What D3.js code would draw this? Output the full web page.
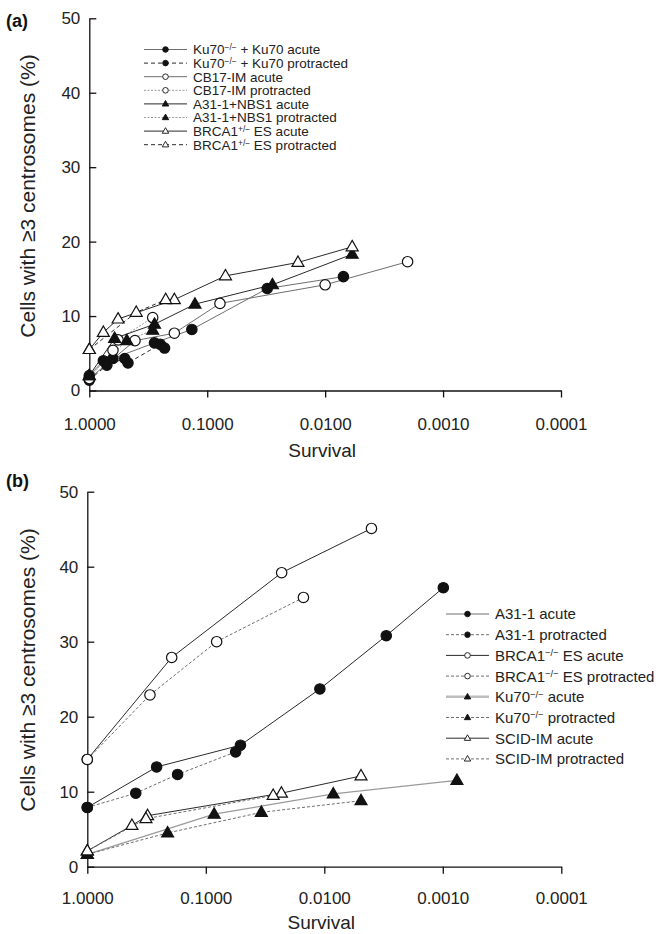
<!DOCTYPE html>
<html>
<head>
<meta charset="utf-8">
<script src="https://cdn.jsdelivr.net/npm/d3@7"></script>
<style>
  body { margin: 0; background: #fff; }
  svg { display: block; }
</style>
</head>
<body>
<div id="chart"></div>
<script>
// ---- axis ticks ----
const xTicks = [1, 0.1, 0.01, 0.001, 0.0001];
const xTickLabels = ["1.0000", "0.1000", "0.0100", "0.0010", "0.0001"];
const yTicks = [0, 10, 20, 30, 40, 50];

// ---- panel (a) data: survival fraction / % cells with >=3 centrosomes ----
const ku70RescAcuteSurv = [1, 0.76, 0.63, 0.28, 0.135, 0.031, 0.007];
const ku70RescAcutePct = [2.0, 4.0, 4.3, 6.4, 8.2, 13.7, 15.3];
const ku70RescProtSurv = [1, 0.71, 0.50, 0.47, 0.25, 0.23];
const ku70RescProtPct = [1.4, 3.4, 4.3, 3.7, 6.2, 5.7];
const cb17AcuteSurv = [1, 0.41, 0.19, 0.078, 0.010, 0.0020];
const cb17AcutePct = [1.6, 6.7, 7.7, 11.7, 14.2, 17.3];
const cb17ProtSurv = [1, 0.63, 0.57, 0.29];
const cb17ProtPct = [1.6, 5.4, 6.8, 9.8];
const nbs1AcuteSurv = [1, 0.61, 0.28, 0.127, 0.028, 0.0059];
const nbs1AcutePct = [2.0, 7.0, 8.9, 11.6, 14.2, 18.3];
const nbs1ProtSurv = [1, 0.48, 0.29];
const nbs1ProtPct = [2.0, 6.7, 8.1];
const brcaHetAcuteSurv = [1, 0.76, 0.57, 0.19, 0.070, 0.017, 0.0059];
const brcaHetAcutePct = [5.5, 7.8, 9.6, 12.2, 15.4, 17.2, 19.3];
const brcaHetProtSurv = [1, 0.40, 0.225];
const brcaHetProtPct = [5.5, 10.5, 12.2];

const legendA = [
  "Ku70{−/−} + Ku70 acute", "Ku70{−/−} + Ku70 protracted",
  "CB17-IM acute", "CB17-IM protracted",
  "A31-1+NBS1 acute", "A31-1+NBS1 protracted",
  "BRCA1{+/−} ES acute", "BRCA1{+/−} ES protracted"
];

// ---- panel (b) data ----
const a31AcuteSurv = [1, 0.26, 0.051, 0.0109, 0.0030, 0.00099];
const a31AcutePct = [7.9, 13.3, 16.2, 23.7, 30.8, 37.2];
const a31ProtSurv = [1, 0.39, 0.173, 0.056];
const a31ProtPct = [7.9, 9.8, 12.3, 15.3];
const brcaNullAcuteSurv = [1, 0.194, 0.0229, 0.0040];
const brcaNullAcutePct = [14.3, 27.9, 39.2, 45.1];
const brcaNullProtSurv = [1, 0.296, 0.081, 0.0150];
const brcaNullProtPct = [14.3, 22.9, 30.0, 35.9];
const ku70AcuteSurv = [1, 0.085, 0.0084, 0.00076];
const ku70AcutePct = [1.65, 7.0, 9.7, 11.5];
const ku70ProtSurv = [1, 0.21, 0.034, 0.0049];
const ku70ProtPct = [1.65, 4.5, 7.25, 8.8];
const scidAcuteSurv = [1, 0.42, 0.31, 0.023, 0.0049];
const scidAcutePct = [2.1, 5.5, 6.8, 9.8, 12.1];
const scidProtSurv = [1, 0.32, 0.027];
const scidProtPct = [2.1, 6.4, 9.5];

const legendB = [
  "A31-1 acute", "A31-1 protracted",
  "BRCA1{−/−} ES acute", "BRCA1{−/−} ES protracted",
  "Ku70{−/−} acute", "Ku70{−/−} protracted",
  "SCID-IM acute", "SCID-IM protracted"
];

const FONT = "'Liberation Sans', Arial, Helvetica, sans-serif";
const DARK = "#2a2a2a";
const MID = "#6e6e6e";
const LIGHT = "#9a9a9a";

const zip = (s, v) => s.map((d, i) => ({ s: d, v: v[i] }));

const seriesA = [
  { pts: zip(ku70RescAcuteSurv, ku70RescAcutePct), shape: "circle", filled: true, stroke: MID, dash: null, lw: 1, legW: 1 },
  { pts: zip(ku70RescProtSurv, ku70RescProtPct), shape: "circle", filled: true, stroke: DARK, dash: "4,3", lw: 1, legW: 1 },
  { pts: zip(cb17AcuteSurv, cb17AcutePct), shape: "circle", filled: false, stroke: MID, dash: null, lw: 1, legW: 1 },
  { pts: zip(cb17ProtSurv, cb17ProtPct), shape: "circle", filled: false, stroke: LIGHT, dash: "2,1.5", lw: 1, legW: 1 },
  { pts: zip(nbs1AcuteSurv, nbs1AcutePct), shape: "triangle", filled: true, stroke: DARK, dash: null, lw: 1, legW: 1 },
  { pts: zip(nbs1ProtSurv, nbs1ProtPct), shape: "triangle", filled: true, stroke: LIGHT, dash: "2,1.5", lw: 1, legW: 1 },
  { pts: zip(brcaHetAcuteSurv, brcaHetAcutePct), shape: "triangle", filled: false, stroke: DARK, dash: null, lw: 1, legW: 1 },
  { pts: zip(brcaHetProtSurv, brcaHetProtPct), shape: "triangle", filled: false, stroke: DARK, dash: "4,3", lw: 1, legW: 1 }
];

const seriesB = [
  { pts: zip(a31AcuteSurv, a31AcutePct), shape: "circle", filled: true, stroke: DARK, dash: null, lw: 1, legW: 1, legStroke: MID },
  { pts: zip(a31ProtSurv, a31ProtPct), shape: "circle", filled: true, stroke: MID, dash: "3,2", lw: 1, legW: 1 },
  { pts: zip(brcaNullAcuteSurv, brcaNullAcutePct), shape: "circle", filled: false, stroke: DARK, dash: null, lw: 1, legW: 1 },
  { pts: zip(brcaNullProtSurv, brcaNullProtPct), shape: "circle", filled: false, stroke: MID, dash: "3,2", lw: 1, legW: 1 },
  { pts: zip(ku70AcuteSurv, ku70AcutePct), shape: "triangle", filled: true, stroke: LIGHT, dash: null, lw: 1.2, legW: 2.6, legStroke: "#bdbdbd" },
  { pts: zip(ku70ProtSurv, ku70ProtPct), shape: "triangle", filled: true, stroke: MID, dash: "3,2", lw: 1, legW: 1 },
  { pts: zip(scidAcuteSurv, scidAcutePct), shape: "triangle", filled: false, stroke: DARK, dash: null, lw: 1, legW: 1 },
  { pts: zip(scidProtSurv, scidProtPct), shape: "triangle", filled: false, stroke: MID, dash: "3,2", lw: 1, legW: 1 }
];

const svg = d3.select("#chart").append("svg")
  .attr("width", 668)
  .attr("height", 934)
  .style("font-family", FONT);

svg.append("rect").attr("width", 668).attr("height", 934).attr("fill", "#fff");

function marker(g, shape, filled, x, y, big) {
  if (shape === "circle") {
    g.append("circle")
      .attr("cx", x).attr("cy", y)
      .attr("r", big ? 5.2 : 2.8)
      .attr("fill", filled ? "#111" : "#fff")
      .attr("stroke", "#111")
      .attr("stroke-width", big ? 1.2 : 0.9);
  } else {
    g.append("path")
      .attr("d", d3.symbol(d3.symbolTriangle, big ? 62 : 18)())
      .attr("transform", `translate(${x},${y + (big ? 0.5 : 0.3)})`)
      .attr("fill", filled ? "#111" : "#fff")
      .attr("stroke", "#111")
      .attr("stroke-width", big ? 1.2 : 0.9);
  }
}

function labelText(sel, label, size) {
  const parts = label.split(/[{}]/);
  sel.append("tspan").text(parts[0]);
  if (parts.length > 1) {
    sel.append("tspan").attr("dy", -size * 0.3).attr("font-size", size * 0.62).text(parts[1]);
    sel.append("tspan").attr("dy", size * 0.3).text(parts[2]);
  }
}

function drawPanel(p) {
  const x = d3.scaleLog().domain([1, 0.0001]).range([p.x0, p.x1]);
  const y = d3.scaleLinear().domain([0, 50]).range([p.yBot, p.yTop]);

  const g = svg.append("g");

  // axes
  const ax = g.append("g")
    .attr("transform", `translate(0,${p.yBot})`)
    .call(d3.axisBottom(x).tickValues(xTicks).tickFormat((d, i) => xTickLabels[i])
      .tickSize(7).tickSizeOuter(0).tickPadding(p.xPad));
  const ay = g.append("g")
    .attr("transform", `translate(${p.x0},0)`)
    .call(d3.axisLeft(y).tickValues(yTicks).tickSize(-7).tickSizeOuter(0).tickPadding(9));

  [ax, ay].forEach((a) => {
    a.attr("font-family", FONT).attr("font-size", 17);
    a.selectAll("path, line").attr("stroke", "#111").attr("stroke-width", 1.3);
    a.selectAll("text").attr("fill", "#222");
  });

  g.append("text")
    .attr("x", (p.x0 + p.x1) / 2 - 3)
    .attr("y", p.yBot + p.survOff)
    .attr("text-anchor", "middle")
    .attr("font-size", 19)
    .attr("fill", "#222")
    .text("Survival");

  g.append("text")
    .attr("transform", `translate(35,${p.titleY}) rotate(-90)`)
    .attr("text-anchor", "middle")
    .attr("font-size", 21)
    .attr("fill", "#222")
    .text("Cells with ≥3 centrosomes (%)");

  g.append("text")
    .attr("x", 6).attr("y", p.tagY)
    .attr("font-size", 18)
    .attr("font-weight", "bold")
    .attr("fill", "#111")
    .text(p.tag);

  const line = d3.line().x((d) => x(d.s)).y((d) => y(d.v));

  p.series.forEach((s) => {
    g.append("path")
      .attr("d", line(s.pts))
      .attr("fill", "none")
      .attr("stroke", s.stroke)
      .attr("stroke-width", s.lw)
      .attr("stroke-dasharray", s.dash);
  });
  p.series.forEach((s) => {
    s.pts.forEach((d) => marker(g, s.shape, s.filled, x(d.s), y(d.v), true));
  });

  // legend
  const lg = g.append("g");
  p.series.forEach((s, i) => {
    const cy = p.legY + i * p.legStep;
    lg.append("line")
      .attr("x1", p.legX).attr("x2", p.legX + 43)
      .attr("y1", cy).attr("y2", cy)
      .attr("stroke", s.legStroke || s.stroke)
      .attr("stroke-width", s.legW)
      .attr("stroke-dasharray", s.dash);
    marker(lg, s.shape, s.filled, p.legX + 21.5, cy, false);
    const t = lg.append("text")
      .attr("x", p.legX + 49)
      .attr("y", cy + p.legFont * 0.36)
      .attr("font-size", p.legFont)
      .attr("fill", "#222");
    labelText(t, p.labels[i], p.legFont);
  });
}

drawPanel({
  tag: "(a)", tagY: 27,
  x0: 89.3, x1: 561, yTop: 18.3, yBot: 390.5, titleY: 196,
  xPad: 20, survOff: 66,
  series: seriesA, labels: legendA,
  legX: 144, legY: 49.5, legStep: 13.6, legFont: 13.5
});

drawPanel({
  tag: "(b)", tagY: 487,
  x0: 87.3, x1: 561.3, yTop: 491.7, yBot: 866.7, titleY: 670,
  xPad: 18, survOff: 62,
  series: seriesB, labels: legendB,
  legX: 446, legY: 614, legStep: 20.7, legFont: 15
});
</script>
</body>
</html>
